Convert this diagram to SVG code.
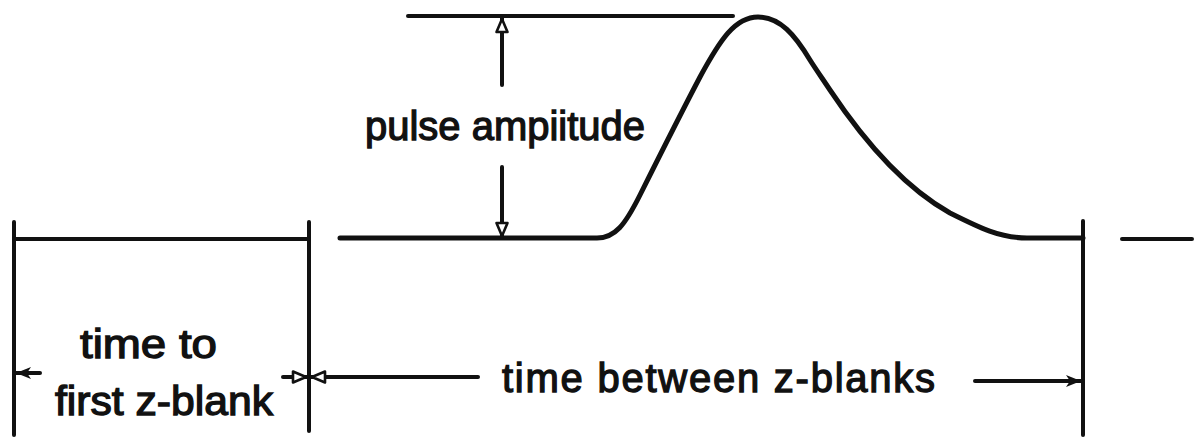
<svg xmlns="http://www.w3.org/2000/svg" width="1204" height="443" viewBox="0 0 1204 443">
  <style>
    .ln { stroke: #111; stroke-width: 4; fill: none; stroke-linecap: round; }
    .curve { stroke: #111; stroke-width: 5; fill: none; stroke-linecap: round; stroke-linejoin: round; }
    .lbl { font-family: "Liberation Sans", Arial, sans-serif; font-size: 40px; fill: #111; stroke: #111; stroke-width: 1.3; }
  </style>
  <defs>
    <marker id="ah" markerUnits="userSpaceOnUse" markerWidth="18" markerHeight="16" refX="16" refY="8" orient="auto">
      <path d="M16,8 L1,2 L5,8 L1,14 Z" fill="#111"/>
    </marker>
    <marker id="ahOpen" markerUnits="userSpaceOnUse" markerWidth="18" markerHeight="16" refX="16" refY="8" orient="auto">
      <path d="M15,8 L2,2.5 L2,13.5 Z" fill="#fff" stroke="#111" stroke-width="2.6" stroke-linejoin="round"/>
    </marker>
  </defs>

  <g id="frame-left">
    <line class="ln" x1="14" y1="222" x2="14" y2="435"/>
    <line class="ln" x1="309" y1="222" x2="309" y2="431"/>
    <line class="ln" x1="14" y1="239" x2="309" y2="239"/>
  </g>

  <g id="frame-right">
    <line class="ln" x1="1083" y1="221" x2="1083" y2="435"/>
    <line class="ln" x1="1122" y1="239" x2="1192" y2="239"/>
  </g>

  <g id="pulse">
    <path class="curve" d="M340,238 L597,238 C615,238 625,225 640,195 C655,165 680,115 700,77 C720,40 735,17 758,17 C780,17 795,35 810,60 C815,68 822,78 830,90 C860,135 900,185 950,213 C980,228 1000,238 1027,238 L1083,238"/>
    <line class="ln" x1="408" y1="16" x2="733" y2="16"/>
  </g>

  <g id="labels">
    <text class="lbl" x="365" y="140" textLength="280" lengthAdjust="spacingAndGlyphs">pulse ampiitude</text>
    <text class="lbl" x="80" y="358" textLength="137" lengthAdjust="spacingAndGlyphs">time to</text>
    <text class="lbl" x="55" y="415" textLength="218" lengthAdjust="spacingAndGlyphs">first z-blank</text>
    <text class="lbl" x="502" y="392" textLength="433" lengthAdjust="spacing">time between z-blanks</text>
  </g>

  <g id="connectors">
    <line class="ln" x1="502" y1="85" x2="502" y2="18" marker-end="url(#ahOpen)"/>
    <line class="ln" x1="502" y1="167" x2="502" y2="237" marker-end="url(#ahOpen)"/>
    <line class="ln" x1="40" y1="373" x2="16" y2="373" marker-end="url(#ah)"/>
    <line class="ln" x1="283" y1="377" x2="307" y2="377" marker-end="url(#ahOpen)"/>
    <line class="ln" x1="478" y1="377" x2="311" y2="377" marker-end="url(#ahOpen)"/>
    <line class="ln" x1="975" y1="381" x2="1081" y2="381" marker-end="url(#ah)"/>
  </g>
</svg>
